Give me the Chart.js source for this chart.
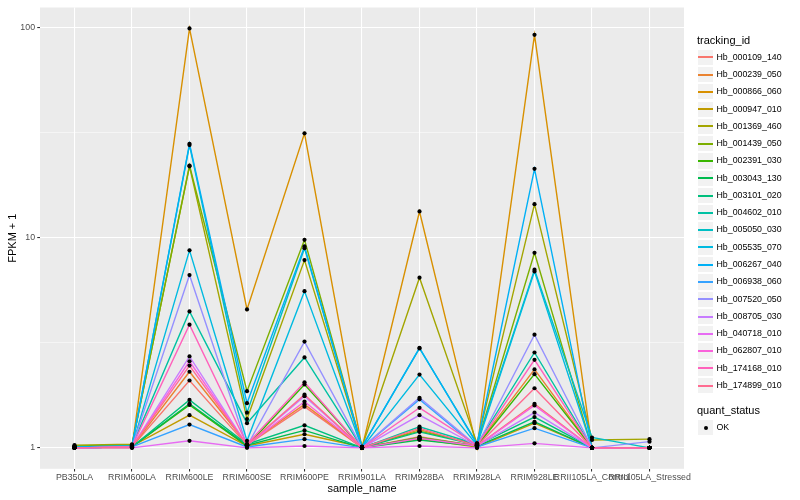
<!DOCTYPE html>
<html><head><meta charset="utf-8">
<script src="https://cdn.jsdelivr.net/npm/chart.js@4.4.1/dist/chart.umd.min.js"></script>
<style>
html,body{margin:0;padding:0;background:#fff;}
#wrap{position:relative;width:800px;height:500px;font-family:"Liberation Sans",Arial,Helvetica,sans-serif;overflow:hidden;background:#fff;}
canvas{position:absolute;left:0;top:0;}
.ttl{position:absolute;left:697px;font-size:11px;line-height:13px;color:#000;white-space:nowrap;}
.key{position:absolute;left:697px;width:17.28px;height:17.28px;background:#f2f2f2;box-sizing:border-box;border:0.6px solid #fff;}
.kl{position:absolute;left:697.9px;width:15.5px;height:1.5px;}
.kp{position:absolute;left:6.24px;top:6.24px;width:4px;height:4px;border-radius:50%;background:#000;}
.lt{position:absolute;left:716.5px;font-size:8.8px;height:17.28px;line-height:17.28px;color:#000;white-space:nowrap;}
</style>
</head><body>
<div id="wrap"><canvas id="c" width="800" height="500"></canvas><div id="legend"></div></div>
<script>
// ---- data ----
const categories = ["PB350LA","RRIM600LA","RRIM600LE","RRIM600SE","RRIM600PE","RRIM901LA","RRIM928BA","RRIM928LA","RRIM928LE","RRII105LA_Control","RRII105LA_Stressed"];
const trackingIds = ["Hb_000109_140","Hb_000239_050","Hb_000866_060","Hb_000947_010","Hb_001369_460","Hb_001439_050","Hb_002391_030","Hb_003043_130","Hb_003101_020","Hb_004602_010","Hb_005050_030","Hb_005535_070","Hb_006267_040","Hb_006938_060","Hb_007520_050","Hb_008705_030","Hb_040718_010","Hb_062807_010","Hb_174168_010","Hb_174899_010"];
const trackingColors = ["#F8766D","#EA8331","#D89000","#C09B00","#A3A500","#7CAE00","#39B600","#00BB4E","#00BF7D","#00C1A3","#00BFC4","#00BAE0","#00B0F6","#35A2FF","#9590FF","#C77CFF","#E76BF3","#FA62DB","#FF62BC","#FF6C91"];

const hb_000109_140 = [1.00, 1.01, 2.09, 1.03, 1.57, 1.00, 1.13, 1.02, 1.62, 1.00, 1.00];
const hb_000239_050 = [1.00, 1.01, 2.30, 1.04, 1.61, 1.00, 1.22, 1.03, 2.36, 1.00, 1.00];
const hb_000866_060 = [1.00, 1.00, 98.6, 4.55, 31.3, 1.00, 13.3, 1.00, 92.0, 1.00, 1.00];
const hb_000947_010 = [1.01, 1.02, 1.43, 1.02, 1.16, 1.01, 1.10, 1.01, 1.31, 1.00, 1.00];
const hb_001369_460 = [1.03, 1.04, 21.8, 1.37, 7.81, 1.01, 6.44, 1.05, 14.4, 1.09, 1.10];
const hb_001439_050 = [1.02, 1.03, 22.0, 1.86, 9.75, 1.01, 1.20, 1.04, 8.46, 1.00, 1.00];
const hb_002391_030 = [1.00, 1.01, 1.60, 1.02, 2.00, 1.00, 1.12, 1.02, 2.24, 1.00, 1.00];
const hb_003043_130 = [1.00, 1.01, 1.62, 1.03, 1.21, 1.00, 1.09, 1.02, 1.33, 1.00, 1.00];
const hb_003101_020 = [1.00, 1.01, 1.69, 1.04, 1.28, 1.00, 1.19, 1.03, 1.40, 1.00, 1.00];
const hb_004602_010 = [1.00, 1.02, 4.45, 1.31, 2.69, 1.00, 1.26, 1.04, 2.84, 1.00, 1.00];
const hb_005050_030 = [1.01, 1.02, 27.5, 1.47, 8.90, 1.01, 2.97, 1.05, 7.03, 1.12, 1.00];
const hb_005535_070 = [1.00, 1.01, 8.69, 1.08, 5.56, 1.00, 2.23, 1.03, 6.90, 1.00, 1.00];
const hb_006267_040 = [1.01, 1.02, 27.9, 1.63, 9.07, 1.01, 2.99, 1.04, 21.2, 1.00, 1.00];
const hb_006938_060 = [1.00, 1.01, 1.29, 1.01, 1.10, 1.00, 1.70, 1.01, 1.24, 1.00, 1.00];
const hb_007520_050 = [1.00, 1.01, 6.63, 1.02, 3.20, 1.00, 1.73, 1.02, 3.45, 1.00, 1.07];
const hb_008705_030 = [1.00, 1.01, 2.72, 1.03, 1.76, 1.00, 1.43, 1.02, 1.47, 1.00, 1.00];
const hb_040718_010 = [1.00, 1.00, 1.08, 1.00, 1.02, 1.00, 1.02, 1.00, 1.05, 1.00, 1.00];
const hb_062807_010 = [1.00, 1.01, 2.58, 1.03, 1.66, 1.00, 1.11, 1.02, 1.59, 1.00, 1.00];
const hb_174168_010 = [1.00, 1.01, 3.85, 1.04, 2.05, 1.00, 1.55, 1.03, 2.62, 1.00, 1.00];
const hb_174899_010 = [1.00, 1.01, 2.46, 1.03, 1.79, 1.00, 1.24, 1.02, 1.92, 1.00, 1.00];

const seriesValues = [hb_000109_140, hb_000239_050, hb_000866_060, hb_000947_010, hb_001369_460, hb_001439_050, hb_002391_030, hb_003043_130, hb_003101_020, hb_004602_010, hb_005050_030, hb_005535_070, hb_006267_040, hb_006938_060, hb_007520_050, hb_008705_030, hb_040718_010, hb_062807_010, hb_174168_010, hb_174899_010];

const quantStatus = ["OK"];
const yMajorTicks = [1, 10, 100];
const yMinorTicks = [3.1623, 31.623];

// ---- chart ----
Chart.defaults.font.family = '"Liberation Sans", Arial, Helvetica, sans-serif';
Chart.defaults.animation = false;

const datasets = seriesValues.map((vals, i) => ({
  label: trackingIds[i],
  data: vals.map((v, j) => ({x: j, y: v})),
  borderColor: trackingColors[i],
  backgroundColor: trackingColors[i],
  borderWidth: 1.4,
  pointRadius: 0,
  tension: 0,
  order: 100 - i
}));
const pts = [];
seriesValues.forEach(vals => vals.forEach((v, j) => pts.push({x: j, y: v})));
datasets.push({
  label: quantStatus[0],
  data: pts,
  showLine: false,
  pointRadius: 2.1,
  pointStyle: 'circle',
  pointBackgroundColor: '#000',
  pointBorderColor: '#000',
  pointBorderWidth: 0,
  order: 0
});

const bgPlugin = {
  id: 'panelbg',
  beforeDraw(chart) {
    const {ctx, chartArea: a} = chart;
    ctx.save();
    ctx.fillStyle = '#EBEBEB';
    ctx.fillRect(a.left, a.top, a.right - a.left, a.bottom - a.top);
    ctx.restore();
  }
};

const isMinor = c => c.tick && c.tick.minor;
const lowLog = -0.0997, highLog = 2.0937;

new Chart(document.getElementById('c'), {
  type: 'line',
  data: {datasets},
  plugins: [bgPlugin],
  options: {
    responsive: false,
    devicePixelRatio: 1,
    layout: {padding: {left: 0, right: 116, top: 5.2, bottom: 0}},
    plugins: {legend: {display: false}, tooltip: {enabled: false}},
    scales: {
      x: {
        type: 'linear',
        min: -0.6, max: 10.6,
        bounds: 'data',
        afterBuildTicks: s => { s.ticks = categories.map((c, i) => ({value: i})); },
        afterFit: s => { s.height = 31.2; },
        ticks: {
          autoSkip: false, maxRotation: 0, minRotation: 0,
          padding: 1.2,
          color: '#4D4D4D',
          font: {size: 8.8},
          callback: v => categories[v]
        },
        grid: {color: '#FFFFFF', lineWidth: 1.07, tickColor: '#333333', tickLength: 2.75, tickWidth: 1.07},
        border: {display: false},
        title: {display: true, text: 'sample_name', color: '#000', font: {size: 11}, padding: {top: 0, bottom: 4.4}}
      },
      y: {
        type: 'logarithmic',
        min: Math.pow(10, lowLog), max: Math.pow(10, highLog),
        bounds: 'data',
        afterBuildTicks: s => {
          const t = yMajorTicks.map(v => ({value: v})).concat(yMinorTicks.map(v => ({value: v, minor: true})));
          t.sort((a, b) => a.value - b.value);
          s.ticks = t;
        },
        afterFit: s => { s.width = 40; },
        ticks: {
          autoSkip: false,
          padding: 2.2,
          color: '#4D4D4D',
          font: {size: 8.8},
          callback: (v) => yMajorTicks.includes(v) ? String(v) : ''
        },
        grid: {
          color: '#FFFFFF',
          lineWidth: c => isMinor(c) ? 0.53 : 1.07,
          tickColor: c => isMinor(c) ? 'rgba(0,0,0,0)' : '#333333',
          tickLength: 2.75,
          tickWidth: 1.07
        },
        border: {display: false},
        title: {display: true, text: 'FPKM + 1', color: '#000', font: {size: 11}, padding: {top: 6.8, bottom: 0}}
      }
    }
  }
});

// ---- legend (HTML) ----
const lg = document.getElementById('legend');
function add(html) { lg.insertAdjacentHTML('beforeend', html); }
add(`<div class="ttl" style="top:${40.7 - 6.5}px">tracking_id</div>`);
trackingIds.forEach((id, i) => {
  const cy = 57.3 + i * 17.28;
  const top = cy - 8.64;
  add(`<div class="key" style="top:${top}px"></div>`);
  add(`<div class="kl" style="top:${Math.round(cy) - 0.75}px;background:${trackingColors[i]}"></div>`);
  add(`<div class="lt" style="top:${top}px">${id}</div>`);
});
add(`<div class="ttl" style="top:${410.7 - 6.5}px">quant_status</div>`);
quantStatus.forEach((q, i) => {
  const top = 427.3 + i * 17.28 - 8.64;
  add(`<div class="key" style="top:${top}px"><div class="kp"></div></div>`);
  add(`<div class="lt" style="top:${top}px">${q}</div>`);
});
</script>
</body></html>
